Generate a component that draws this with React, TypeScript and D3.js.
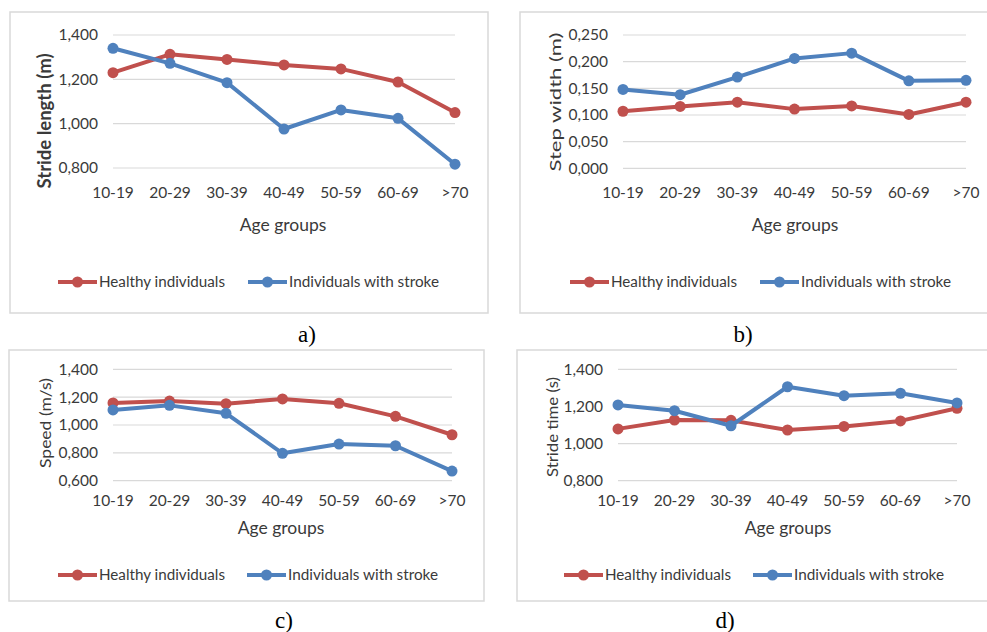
import React from "react";
import * as d3 from "d3";

const ageGroups = ["10-19", "20-29", "30-39", "40-49", "50-59", "60-69", ">70"];

const strideLengthHealthy = [1.23, 1.313, 1.29, 1.265, 1.247, 1.188, 1.05];
const strideLengthStroke = [1.34, 1.272, 1.185, 0.976, 1.062, 1.024, 0.817];
const strideLengthTicks = [0.8, 1.0, 1.2, 1.4];

const stepWidthHealthy = [0.107, 0.116, 0.124, 0.111, 0.117, 0.101, 0.124];
const stepWidthStroke = [0.148, 0.138, 0.171, 0.206, 0.216, 0.164, 0.165];
const stepWidthTicks = [0, 0.05, 0.1, 0.15, 0.2, 0.25];

const speedHealthy = [1.158, 1.172, 1.153, 1.187, 1.156, 1.062, 0.93];
const speedStroke = [1.108, 1.141, 1.084, 0.797, 0.863, 0.851, 0.669];
const speedTicks = [0.6, 0.8, 1.0, 1.2, 1.4];

const strideTimeHealthy = [1.079, 1.127, 1.125, 1.073, 1.092, 1.122, 1.19];
const strideTimeStroke = [1.208, 1.177, 1.096, 1.306, 1.258, 1.271, 1.219];
const strideTimeTicks = [0.8, 1.0, 1.2, 1.4];

const seriesNames = ["Healthy individuals", "Individuals with stroke"];
const captions = ["a)", "b)", "c)", "d)"];

const RED = "#c0504d";
const BLUE = "#4f81bd";
const TEXT = "#3a3a3a";
const GRID = "#d9d9d9";
const FONT = "Lato, 'Open Sans', sans-serif";

const locale = d3.formatLocale({
  decimal: ",",
  thousands: ".",
  grouping: [3],
  currency: ["", ""],
});
const fmt = locale.format(".3f");

type PanelProps = {
  frame: { x: number; y: number; w: number; h: number };
  plot: { left: number; right: number; top: number; bottom: number };
  domain: [number, number];
  ticks: number[];
  title: string;
  titleBold?: boolean;
  titleX: number;
  titleY: number;
  titleLen: number;
  labelRight: number;
  xTickY: number;
  xTitleX: number;
  xTitleY: number;
  legendY: number;
  legendRed: number;
  legendBlue: number;
  healthy: number[];
  stroke: number[];
};

function Panel(p: PanelProps) {
  const x = d3
    .scalePoint<string>()
    .domain(ageGroups)
    .range([p.plot.left, p.plot.right]);
  const y = d3
    .scaleLinear()
    .domain(p.domain)
    .range([p.plot.bottom, p.plot.top]);
  const line = d3
    .line<number>()
    .x((_, i) => x(ageGroups[i]) as number)
    .y((d) => y(d));
  const series = [
    { values: p.healthy, color: RED },
    { values: p.stroke, color: BLUE },
  ];
  const legendItems = [
    { x: p.legendRed, color: RED, name: seriesNames[0], len: 126 },
    { x: p.legendBlue, color: BLUE, name: seriesNames[1], len: 150 },
  ];
  return (
    <g>
      <rect
        x={p.frame.x}
        y={p.frame.y}
        width={p.frame.w}
        height={p.frame.h}
        fill="#fff"
        stroke={GRID}
        strokeWidth={1.5}
      />
      {p.ticks.map((t) => (
        <g key={t}>
          <line
            x1={p.plot.left}
            x2={p.plot.right}
            y1={y(t)}
            y2={y(t)}
            stroke={GRID}
            strokeWidth={1.2}
          />
          <text
            x={p.labelRight}
            y={y(t)}
            dy="0.35em"
            textAnchor="end"
            fontSize={15.5}
            fill={TEXT}
            fontFamily={FONT}
          >
            {fmt(t)}
          </text>
        </g>
      ))}
      {ageGroups.map((g) => (
        <text
          key={g}
          x={x(g)}
          y={p.xTickY}
          dy="0.35em"
          textAnchor="middle"
          fontSize={15.5}
          fill={TEXT}
          fontFamily={FONT}
        >
          {g}
        </text>
      ))}
      <text
        x={p.xTitleX}
        y={p.xTitleY}
        dy="0.35em"
        textAnchor="middle"
        fontSize={17.5}
        fill={TEXT}
        fontFamily={FONT}
      >
        Age groups
      </text>
      <text
        transform={`translate(${p.titleX},${p.titleY}) rotate(-90)`}
        dy="0.35em"
        textAnchor="middle"
        fontSize={p.titleBold ? 18 : 16}
        fontWeight={p.titleBold ? "bold" : "normal"}
        fill={TEXT}
        fontFamily={FONT}
        textLength={p.titleLen}
        lengthAdjust="spacingAndGlyphs"
      >
        {p.title}
      </text>
      {series.map((s, si) => (
        <g key={si}>
          <path
            d={line(s.values) || ""}
            fill="none"
            stroke={s.color}
            strokeWidth={4}
            strokeLinejoin="round"
          />
          {s.values.map((v, i) => (
            <circle
              key={i}
              cx={x(ageGroups[i])}
              cy={y(v)}
              r={5.5}
              fill={s.color}
            />
          ))}
        </g>
      ))}
      {legendItems.map((l) => (
        <g key={l.name}>
          <line
            x1={l.x}
            x2={l.x + 39}
            y1={p.legendY}
            y2={p.legendY}
            stroke={l.color}
            strokeWidth={4}
          />
          <circle cx={l.x + 19.5} cy={p.legendY} r={5.5} fill={l.color} />
          <text
            x={l.x + 41}
            y={p.legendY}
            dy="0.35em"
            fontSize={15.5}
            fill={TEXT}
            fontFamily={FONT}
            textLength={l.len}
            lengthAdjust="spacingAndGlyphs"
          >
            {l.name}
          </text>
        </g>
      ))}
    </g>
  );
}

export default function App() {
  return (
    <svg
      width={987}
      height={632}
      style={{ position: "absolute", left: 0, top: 0, background: "#fff" }}
    >
      <rect x={0} y={0} width={987} height={632} fill="#fff" />
      <Panel
        frame={{ x: 10, y: 12, w: 478, h: 301 }}
        plot={{ left: 113, right: 455, top: 35, bottom: 168 }}
        domain={[0.8, 1.4]}
        ticks={strideLengthTicks}
        title="Stride length (m)"
        titleBold
        titleX={45}
        titleY={121}
        titleLen={135}
        labelRight={98}
        xTickY={193}
        xTitleX={283}
        xTitleY={225}
        legendY={282}
        legendRed={58}
        legendBlue={248}
        healthy={strideLengthHealthy}
        stroke={strideLengthStroke}
      />
      <Panel
        frame={{ x: 520, y: 12, w: 470, h: 301 }}
        plot={{ left: 623, right: 966, top: 35, bottom: 168.3 }}
        domain={[0, 0.25]}
        ticks={stepWidthTicks}
        title="Step width (m)"
        titleX={555}
        titleY={102}
        titleLen={139}
        labelRight={608}
        xTickY={193}
        xTitleX={795}
        xTitleY={225}
        legendY={282}
        legendRed={570}
        legendBlue={760}
        healthy={stepWidthHealthy}
        stroke={stepWidthStroke}
      />
      <Panel
        frame={{ x: 9, y: 350, w: 475, h: 251 }}
        plot={{ left: 113, right: 452, top: 369.3, bottom: 480.7 }}
        domain={[0.6, 1.4]}
        ticks={speedTicks}
        title="Speed (m/s)"
        titleX={45}
        titleY={423}
        titleLen={90}
        labelRight={98}
        xTickY={500.7}
        xTitleX={281}
        xTitleY={527.7}
        legendY={575}
        legendRed={58}
        legendBlue={247}
        healthy={speedHealthy}
        stroke={speedStroke}
      />
      <Panel
        frame={{ x: 517, y: 350, w: 475, h: 251 }}
        plot={{ left: 618, right: 957, top: 369.3, bottom: 480.7 }}
        domain={[0.8, 1.4]}
        ticks={strideTimeTicks}
        title="Stride time (s)"
        titleX={552}
        titleY={427}
        titleLen={100}
        labelRight={603}
        xTickY={500.7}
        xTitleX={788}
        xTitleY={527.7}
        legendY={575}
        legendRed={564}
        legendBlue={753}
        healthy={strideTimeHealthy}
        stroke={strideTimeStroke}
      />
      {captions.map((c, i) => (
        <text
          key={c}
          x={[307, 743, 284, 725][i]}
          y={[342, 342, 628, 628][i]}
          textAnchor="middle"
          fontSize={23}
          fill="#000"
          fontFamily="'Liberation Serif', 'Times New Roman', serif"
        >
          {c}
        </text>
      ))}
    </svg>
  );
}
